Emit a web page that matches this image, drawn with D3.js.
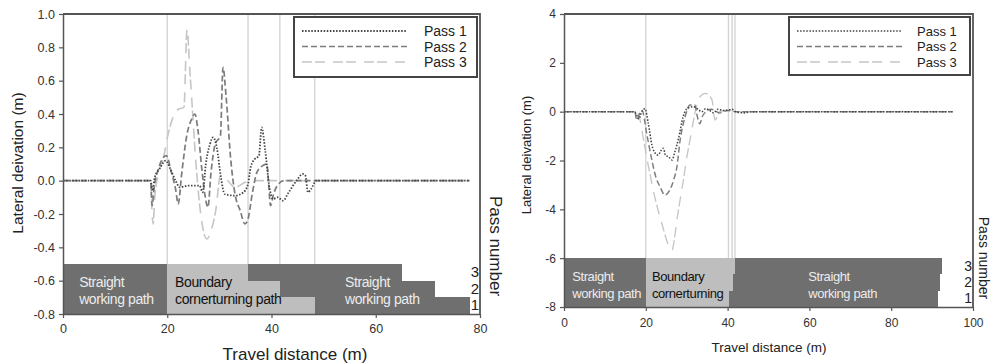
<!DOCTYPE html>
<html>
<head>
<meta charset="utf-8">
<script src="https://cdn.jsdelivr.net/npm/d3@7"></script>
<style>
  body { margin: 0; background: #fff; }
  text { font-family: "Liberation Sans", Arial, sans-serif; }
</style>
</head>
<body>
<script>
// ---- data ----
const passNames = ["Pass 1", "Pass 2", "Pass 3"]
const passNumbers = [3, 2, 1]

// left panel (travel distance m, lateral deviation m)
const leftXTicks = [0, 20, 40, 60, 80]
const leftYTicks = [-0.8, -0.6, -0.4, -0.2, 0.0, 0.2, 0.4, 0.6, 0.8, 1.0]
const leftPass1 = [[0,0],[16.8,0],[17.2,-0.06],[17.6,0.02],[18.5,0.07],[19.7,0.12],[20.6,0.07],[21.6,0],[22.4,-0.04],[24,-0.03],[26.2,-0.03],[26.8,-0.07],[27.4,0.1],[28.2,0.22],[28.8,0.26],[29.5,0.2],[30.3,0.02],[31,-0.08],[33,-0.09],[34.6,-0.07],[35.5,-0.02],[36,0.08],[36.8,0.13],[37.6,0.15],[38.1,0.32],[38.8,0.18],[39.6,-0.04],[40.3,-0.11],[41.2,-0.1],[42.2,-0.12],[43.3,-0.07],[44.8,0],[46,0.04],[46.5,0.03],[47,-0.07],[47.6,-0.05],[48.6,0],[78,0]]
const leftPass2 = [[0,0],[16.8,0],[17.1,-0.15],[17.5,-0.04],[18.4,0.08],[19.8,0.15],[20.8,0.05],[21.6,-0.05],[22.1,-0.14],[22.8,0.05],[23.8,0.28],[24.7,0.37],[25.3,0.4],[25.9,0.3],[26.6,0.08],[27.2,-0.08],[27.8,-0.16],[28.4,0.05],[29.2,0.22],[30.2,0.27],[30.7,0.68],[31.3,0.5],[32.2,0.12],[33,-0.08],[34,-0.18],[34.9,-0.26],[35.5,-0.23],[36.3,-0.08],[37.2,0.05],[38.3,0.09],[39.1,0.1],[39.5,-0.04],[39.8,-0.15],[40.4,-0.08],[41.1,-0.03],[42.4,0],[78,0]]
const leftPass3 = [[0,0],[16.8,0],[17.1,-0.2],[17.3,-0.26],[17.6,-0.1],[18.3,0.04],[19.3,0.14],[20.1,0.27],[21.1,0.38],[22.2,0.43],[23.2,0.44],[23.8,0.91],[24.3,0.68],[24.8,0.44],[25.4,0.15],[26,-0.08],[26.8,-0.28],[27.6,-0.35],[28.4,-0.3],[29.3,-0.18],[30.2,0.03],[31,0.02],[33,-0.04],[35,-0.01],[37,0],[78,0]]
const leftTurnStart = [20, 20, 20]        // pass 1, 2, 3
const leftTurnEnd = [48.3, 41.6, 35.5]
const leftPathEnd = [78.1, 71.4, 65.0]
const leftMarkers = [20, 35.5, 41.6, 48.3]
const leftSegLabels = [[3.1, "Straight", "working path", true], [21.5, "Boundary", "cornerturning path", false], [54.1, "Straight", "working path", true]]

// right panel
const rightXTicks = [0, 20, 40, 60, 80, 100]
const rightYTicks = [-8, -6, -4, -2, 0, 2, 4]
const rightPass1 = [[0,0],[17.2,0],[17.8,-0.15],[18.3,-0.3],[19,0],[19.8,0.12],[20.6,-0.47],[21.5,-1.37],[22.3,-1.7],[23,-1.78],[23.7,-1.6],[24.3,-1.5],[24.8,-1.78],[25.6,-1.85],[26.4,-1.98],[27.1,-1.65],[28,-1.1],[29.1,-0.22],[30.3,0.15],[31.6,0.2],[32.6,0.12],[33.7,0],[34.6,0.12],[35.6,0.05],[36.6,-0.05],[37.6,0.1],[38.8,0.05],[40,0.06],[41,0.1],[42.2,-0.02],[44,-0.05],[46,0],[95,0]]
const rightPass2 = [[0,0],[17.3,0],[17.8,-0.34],[18.4,-0.1],[19.1,0.05],[20.2,-0.88],[21.5,-2],[22.5,-2.7],[23.5,-3.08],[24.7,-3.42],[25.9,-3.2],[26.8,-2.8],[27.6,-2.26],[28.4,-1.16],[29.6,-0.22],[30.8,0.27],[32,0.27],[32.6,-0.2],[33.2,-0.5],[33.8,-0.2],[34.4,-0.05],[36,0.1],[38.1,-0.05],[40.1,0.05],[42,0],[95,0]]
const rightPass3 = [[0,0],[17.8,0],[18.6,-0.34],[19.4,-1.1],[20.2,-1.85],[21.2,-2.7],[22.2,-3.5],[23.1,-4.1],[23.9,-4.57],[24.8,-5.1],[25.6,-5.5],[26.4,-5.67],[27,-5.2],[27.6,-4.45],[28.4,-3.6],[29.2,-2.8],[30,-1.9],[30.8,-1.16],[31.4,-0.6],[32,-0.06],[33.2,0.6],[34.5,0.75],[35.5,0.65],[36.2,0.48],[36.9,-0.34],[38.1,0],[39.6,0.05],[41,0],[95,0]]
const rightTurnStart = [20, 20, 20]
const rightTurnEnd = [40.3, 41.2, 41.8]
const rightPathEnd = [91.4, 91.9, 92.3]
const rightMarkers = [20, 40.2, 41.1, 41.8]
const rightSegLabels = [[2.0, "Straight", "working path", true], [21.5, "Boundary", "cornerturning", false], [59.7, "Straight", "working path", true]]

// ---- drawing ----
const svg = d3.select("body").append("svg")
    .attr("width", 994)
    .attr("height", 364)

const passStyles = [
    { color: "#444", dash: "1.5,1.6", width: 1.8 },
    { color: "#7c7c7c", dash: "6,3", width: 1.7 },
    { color: "#c6c6c6", dash: "10,3,10,8", width: 1.6 }
]

const drawPanel = (o) => {
    const x = d3.scaleLinear().domain(o.xDomain).range([o.left, o.right])
    const y = d3.scaleLinear().domain(o.yDomain).range([o.bottom, o.top])
    const band = d3.scaleBand().domain(passNumbers).range([y(o.barTop), y(o.yDomain[0])])
    const g = svg.append("g")

    g.selectAll(".marker").data(o.markers).join("line")
        .attr("x1", d => x(d)).attr("x2", d => x(d))
        .attr("y1", o.top).attr("y2", y(o.barTop))
        .attr("stroke", "#d2d2d2")
        .attr("stroke-width", 1.3)

    // pass bars: straight / turning / straight
    const segs = []
    passNumbers.forEach(p => {
        const i = p - 1
        segs.push({ p, a: o.xDomain[0], b: o.turnStart[i], dark: true })
        segs.push({ p, a: o.turnStart[i], b: o.turnEnd[i], dark: false })
        segs.push({ p, a: o.turnEnd[i], b: o.pathEnd[i], dark: true })
    })
    g.selectAll(".seg").data(segs).join("rect")
        .attr("x", d => x(d.a))
        .attr("width", d => x(d.b) - x(d.a))
        .attr("y", d => band(d.p))
        .attr("height", band.bandwidth())
        .attr("fill", d => d.dark ? "#6f6f6f" : "#bebebe")
        .attr("shape-rendering", "crispEdges")

    const barY = y(o.barTop)
    o.segLabels.forEach(([lx, l1, l2, dark]) => {
        const t = g.append("text")
            .attr("x", x(lx))
            .attr("font-size", o.barFont)
            .attr("letter-spacing", -0.4)
            .attr("fill", dark ? "#ececec" : "#111")
        t.append("tspan").attr("x", x(lx)).attr("y", barY + 23).text(l1)
        t.append("tspan").attr("x", x(lx)).attr("y", barY + 40).text(l2)
    })

    const line = d3.line()
        .x(d => x(d[0]))
        .y(d => y(d[1]))
        .curve(d3.curveMonotoneX)

    // draw pass 3 first so the darker ones stay on top
    o.series.map((s, i) => ({ s, i })).reverse().forEach(({ s, i }) => {
        g.append("path")
            .datum(s)
            .attr("fill", "none")
            .attr("stroke", passStyles[i].color)
            .attr("stroke-width", passStyles[i].width * o.lineScale)
            .attr("stroke-dasharray", passStyles[i].dash)
            .attr("d", line)
    })

    const styleAxis = (ax, size) => {
        ax.select(".domain").attr("stroke", "#555").attr("stroke-width", 1.5)
        ax.selectAll(".tick line").attr("stroke", "#555").attr("stroke-width", 1.2)
        ax.selectAll(".tick text").attr("fill", "#333").attr("font-size", size)
            .attr("font-family", "Liberation Sans, Arial, sans-serif")
    }

    const xAx = g.append("g")
        .attr("transform", `translate(0,${o.bottom})`)
        .call(d3.axisBottom(x).tickValues(o.xTicks).tickSize(4).tickSizeOuter(0)
            .tickPadding(o.xPad).tickFormat(d => String(d)))
    styleAxis(xAx, o.tickFont)

    const yAx = g.append("g")
        .attr("transform", `translate(${o.left},0)`)
        .call(d3.axisLeft(y).tickValues(o.yTicks).tickSize(4).tickSizeOuter(0)
            .tickPadding(4).tickFormat(o.yFormat))
    styleAxis(yAx, o.tickFont)

    const pAx = g.append("g")
        .attr("transform", `translate(${o.right},0)`)
        .call(d3.axisLeft(band).tickSize(0).tickPadding(1))
    pAx.select(".domain").remove()
    pAx.selectAll(".tick text").attr("fill", "#222").attr("font-size", o.passFont)
        .attr("font-family", "Liberation Sans, Arial, sans-serif")

    // frame: top and right edges
    g.append("path")
        .attr("d", `M${o.left},${o.top}H${o.right}V${o.bottom}`)
        .attr("fill", "none")
        .attr("stroke", "#555")
        .attr("stroke-width", 1.8)

    g.append("text")
        .attr("x", o.xLabel[0]).attr("y", o.xLabel[1])
        .attr("text-anchor", "middle")
        .attr("font-size", o.titleFont)
        .attr("fill", "#222")
        .text("Travel distance (m)")
    g.append("text")
        .attr("transform", `translate(${o.yLabel[0]},${o.yLabel[1]}) rotate(-90)`)
        .attr("text-anchor", "middle")
        .attr("font-size", o.yTitleFont)
        .attr("fill", "#222")
        .text("Lateral deivation (m)")
    g.append("text")
        .attr("transform", `translate(${o.pLabel[0]},${o.pLabel[1]}) rotate(90)`)
        .attr("text-anchor", "middle")
        .attr("font-size", o.pTitleFont)
        .attr("fill", "#222")
        .text("Pass number")

    // legend
    const lg = o.legend
    g.append("rect")
        .attr("x", lg.x).attr("y", lg.y).attr("width", lg.w).attr("height", lg.h)
        .attr("fill", "#fff").attr("stroke", "#444").attr("stroke-width", 2)
    passNames.forEach((name, i) => {
        const ly = lg.y + 14 + i * 15.5
        g.append("line")
            .attr("x1", lg.x + 8).attr("x2", lg.x + 113)
            .attr("y1", ly).attr("y2", ly)
            .attr("stroke", passStyles[i].color)
            .attr("stroke-width", passStyles[i].width * o.lineScale)
            .attr("stroke-dasharray", passStyles[i].dash)
        g.append("text")
            .attr("x", lg.x + lg.textDx).attr("y", ly + o.legendFont * 0.36)
            .attr("font-size", o.legendFont)
            .attr("fill", "#222")
            .text(name)
    })
}

drawPanel({
    left: 63, right: 480, top: 14, bottom: 314,
    xDomain: [0, 80], yDomain: [-0.8, 1.0], barTop: -0.5,
    xTicks: leftXTicks, yTicks: leftYTicks, yFormat: d => d.toFixed(1),
    turnStart: leftTurnStart, turnEnd: leftTurnEnd, pathEnd: leftPathEnd,
    markers: leftMarkers, segLabels: leftSegLabels,
    series: [leftPass1, leftPass2, leftPass3],
    lineScale: 1, tickFont: 12.5, xPad: 6, passFont: 15, barFont: 14,
    titleFont: 17, yTitleFont: 15.5, pTitleFont: 17, legendFont: 14,
    xLabel: [295, 360], yLabel: [23, 163], pLabel: [490, 246],
    legend: { x: 294, y: 17, w: 183, h: 60, textDx: 130 }
})

drawPanel({
    left: 564, right: 973, top: 14, bottom: 307,
    xDomain: [0, 100], yDomain: [-8, 4], barTop: -6,
    xTicks: rightXTicks, yTicks: rightYTicks, yFormat: d => String(d),
    turnStart: rightTurnStart, turnEnd: rightTurnEnd, pathEnd: rightPathEnd,
    markers: rightMarkers, segLabels: rightSegLabels,
    series: [rightPass1, rightPass2, rightPass3],
    lineScale: 0.85, tickFont: 12, xPad: 7, passFont: 14, barFont: 13,
    titleFont: 13.5, yTitleFont: 13, pTitleFont: 14, legendFont: 13,
    xLabel: [769, 352], yLabel: [531, 155], pLabel: [979, 258],
    legend: { x: 789, y: 17, w: 181, h: 58, textDx: 128 }
})
</script>
</body>
</html>
